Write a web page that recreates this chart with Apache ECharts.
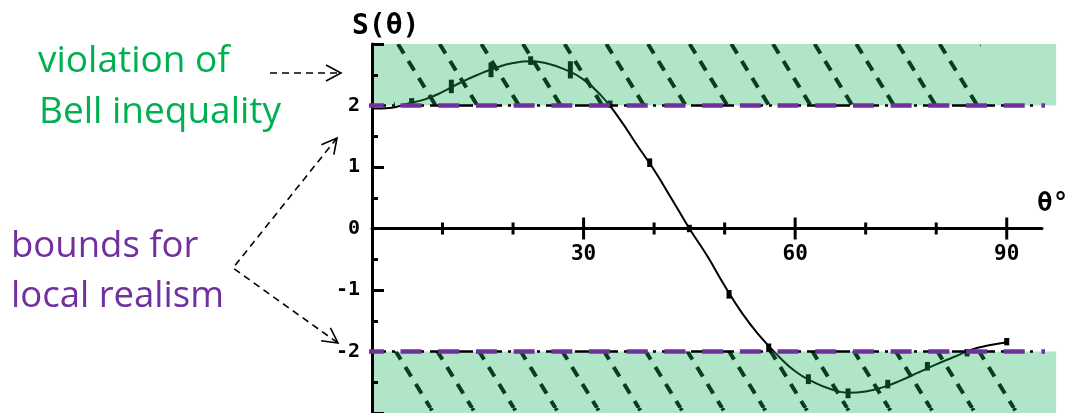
<!DOCTYPE html>
<html>
<head>
<meta charset="utf-8">
<script src="https://cdn.jsdelivr.net/npm/echarts@6/dist/echarts.min.js"></script>
<style>
  html, body { margin: 0; padding: 0; background: #fff; }
  #chart { width: 1071px; height: 413px; }
</style>
</head>
<body>
<div id="chart"></div>
<script>
// Correlation function S(θ): theoretical curve sampled every 2.5°
const curveTheta = [0, 2.5, 5, 7.5, 10, 12.5, 15, 17.5, 20, 22.5, 25, 27.5, 30, 32.5, 35, 37.5, 40, 42.5, 45,
                    47.5, 50, 52.5, 55, 57.5, 60, 62.5, 65, 67.5, 70, 72.5, 75, 77.5, 80, 82.5, 85, 87.5, 90];
const curveS = [1.95, 1.96, 2.03, 2.10, 2.22, 2.37, 2.50, 2.61, 2.69, 2.72, 2.68, 2.58, 2.42, 2.16, 1.80, 1.37, 0.95, 0.48, 0.00,
                -0.44, -0.93, -1.38, -1.75, -2.06, -2.32, -2.49, -2.61, -2.67, -2.65, -2.58, -2.47, -2.34, -2.21, -2.09, -1.97, -1.90, -1.85];

// Measured values with their error half-heights
const pointTheta = [5.625, 11.25, 16.875, 22.5, 28.125, 33.75, 39.375, 45, 50.625, 56.25, 61.875, 67.5, 73.125, 78.75, 84.375, 90];
const pointS     = [2.07, 2.31, 2.58, 2.73, 2.58, 2.02, 1.07, 0.00, -1.07, -1.94, -2.45, -2.68, -2.53, -2.24, -2.02, -1.84];
const pointErr   = [0.05, 0.11, 0.12, 0.07, 0.14, 0.06, 0.07, 0.06, 0.07, 0.07, 0.08, 0.08, 0.07, 0.07, 0.06, 0.06];

// Local-realism bounds and the regions beyond them
const bellBounds = [2, -2];
const violationBands = [[2, 3], [-3, -2]];

// Axis ticks and labels
const xTickMinor = [10, 20, 40, 50, 70, 80];
const xTickMajor = [30, 60, 90];
const xLabels = [30, 60, 90];
const yLabels = [-2, -1, 0, 1, 2];

// ---- drawing settings ----
const X_MAX = 95;           // end of the θ axis
const BAND_END = 97;        // shaded regions run a little past the axis
const BOUND_START = -1.3;   // bound lines start just left of the S axis
const hatchSpan = [[3.1, 86.3], [3.1, 91.8]];  // θ range of the hatching in each band
const hatchPhase = [37.7, 13.8];               // horizontal phase of the hatch lines at y = 0
const MONO = '"DejaVu Sans Mono", monospace';
const SANS = '"Open Sans", sans-serif';

// Tile of dashed "\" strokes used as a repeating fill
function makeHatch(x0) {
  const W = 125, H = 204, sp = W / 3;
  const cv = document.createElement('canvas');
  cv.width = W; cv.height = H;
  const ctx = cv.getContext('2d');
  const seg = Math.hypot(W, H);
  const period = seg / 12;
  ctx.strokeStyle = '#000';
  ctx.lineWidth = 4;
  ctx.lineCap = 'butt';
  ctx.setLineDash([period * 0.56, period * 0.44]);
  ctx.lineDashOffset = period - 10 * seg / H;
  for (let k = -4; k <= 3; k++) {
    const xs = x0 + k * sp;
    ctx.beginPath();
    ctx.moveTo(xs, 0);
    ctx.lineTo(xs + W, H);
    ctx.stroke();
  }
  return cv;
}
const hatchImages = hatchPhase.map(makeHatch);

const chart = echarts.init(document.getElementById('chart'), null, { renderer: 'canvas' });

function tickSeries(values, half) {
  return {
    type: 'custom',
    z: 5,
    silent: true,
    data: values.map(v => [v, 0]),
    renderItem: (params, api) => {
      const p = api.coord([api.value(0), 0]);
      return {
        type: 'line',
        shape: { x1: p[0], y1: p[1] - half, x2: p[0], y2: p[1] + half },
        style: { stroke: '#000', lineWidth: 3 }
      };
    }
  };
}

function arrowHead(tip, from) {
  const dx = tip[0] - from[0], dy = tip[1] - from[1];
  const L = Math.hypot(dx, dy), ux = dx / L, uy = dy / L;
  const len = 17, a = 28 * Math.PI / 180;
  const arm = s => [tip[0] - len * (ux * Math.cos(a) - s * uy * Math.sin(a)),
                    tip[1] - len * (uy * Math.cos(a) + s * ux * Math.sin(a))];
  return { type: 'polyline', shape: { points: [arm(1), tip, arm(-1)] },
           style: { stroke: '#000', lineWidth: 1.6, fill: null } };
}
function dashed(points) {
  return { type: 'polyline', shape: { points },
           style: { stroke: '#000', lineWidth: 1.6, lineDash: [7, 5], fill: null } };
}
function label(text, x, y, color, font) {
  return { type: 'text', x, y,
           style: { text, fill: color, font, textAlign: 'left', textVerticalAlign: 'middle' } };
}

const apex = [233, 268], tipUp = [337, 138], tipDown = [338, 343];

const option = {
  backgroundColor: '#fff',
  animation: false,
  grid: { left: 372, right: 29, top: 44, bottom: 0, containLabel: false, outerBoundsMode: 'none' },
  xAxis: {
    type: 'value', min: 0, max: X_MAX, interval: 5,
    axisLine: { show: true, onZero: true, lineStyle: { color: '#000', width: 3 } },
    axisTick: { show: false },
    splitLine: { show: false },
    axisLabel: { show: false }
  },
  yAxis: {
    type: 'value', min: -3, max: 3, interval: 1, z: 8,
    axisLine: { show: true, lineStyle: { color: '#000', width: 3 } },
    axisTick: { show: true, inside: true, length: 12, lineStyle: { color: '#000', width: 3 } },
    minorTick: { show: true, splitNumber: 2, length: 6, lineStyle: { color: '#000', width: 3 } },
    splitLine: { show: false },
    minorSplitLine: { show: false },
    axisLabel: {
      margin: 12, color: '#000', fontFamily: MONO, fontWeight: 'bold', fontSize: 20,
      formatter: v => yLabels.includes(v) ? String(v) : ''
    }
  },
  series: [
    // hatching inside the violation regions
    {
      type: 'custom', z: 1, silent: true,
      data: violationBands,
      renderItem: (params, api) => {
        const i = params.dataIndex;
        const a = api.coord([hatchSpan[i][0], api.value(1)]);
        const b = api.coord([hatchSpan[i][1], api.value(0)]);
        return { type: 'rect', shape: { x: a[0], y: a[1], width: b[0] - a[0], height: b[1] - a[1] },
                 style: { fill: { image: hatchImages[i], repeat: 'repeat' } } };
      }
    },
    // theoretical curve
    {
      type: 'line', z: 2, silent: true,
      data: curveTheta.map((t, i) => [t, curveS[i]]),
      smooth: true, symbol: 'none',
      lineStyle: { color: '#000', width: 2 }
    },
    // measured values with error bars
    {
      type: 'custom', z: 3, silent: true,
      data: pointTheta.map((t, i) => [t, pointS[i], pointErr[i]]),
      renderItem: (params, api) => {
        const t = api.value(0), s = api.value(1), e = api.value(2);
        const top = api.coord([t, s + e]), bot = api.coord([t, s - e]);
        const h = Math.max(bot[1] - top[1], 6);
        const yc = (top[1] + bot[1]) / 2;
        return { type: 'rect', shape: { x: top[0] - 2.5, y: yc - h / 2, width: 5, height: h },
                 style: { fill: '#000' } };
      }
    },
    // translucent green over the violation regions
    {
      type: 'custom', z: 4, silent: true,
      data: violationBands,
      renderItem: (params, api) => {
        const a = api.coord([0, api.value(1)]);
        const b = api.coord([BAND_END, api.value(0)]);
        return { type: 'rect', shape: { x: a[0] + 1.5, y: a[1], width: b[0] - a[0] - 1.5, height: b[1] - a[1] },
                 style: { fill: 'rgba(26,178,93,0.34)' } };
      }
    },
    tickSeries(xTickMinor, 6),
    tickSeries(xTickMajor, 11),
    // θ tick labels under the axis
    {
      type: 'custom', z: 5, silent: true,
      data: xLabels.map(v => [v, 0]),
      renderItem: (params, api) => {
        const v = api.value(0);
        const p = api.coord([v, 0]);
        return { type: 'text', x: p[0], y: p[1] + 26.5,
                 style: { text: String(v), fill: '#000', font: 'bold 21px ' + MONO,
                          textAlign: 'center', textVerticalAlign: 'middle' } };
      }
    },
    // dash-dot bound lines beneath the highlighted ones
    ...bellBounds.map(b => ({
      type: 'line', z: 9, silent: true, clip: false, symbol: 'none',
      data: [[0, b], [94, b]],
      lineStyle: { color: '#000', width: 2.5, type: [14, 6, 3, 6] }
    })),
    // local-realism bounds
    ...bellBounds.map(b => ({
      type: 'line', z: 10, silent: true, clip: false, symbol: 'none',
      data: [[BOUND_START, b], [BAND_END, b]],
      lineStyle: { color: '#7030a0', width: 4.5, type: [21, 16.7] }
    }))
  ],
  graphic: [
    label('S(θ)', 352, 27, '#000', 'bold 28px ' + MONO),
    label('θ°', 1037, 204, '#000', 'bold 26px ' + MONO),
    label('violation of', 38, 61, '#00b050', '37px ' + SANS),
    label('Bell inequality', 39, 112, '#00b050', '37px ' + SANS),
    label('bounds for', 11, 247, '#7030a0', '36.5px ' + SANS),
    label('local realism', 11, 297, '#7030a0', '36.5px ' + SANS),
    dashed([[270, 73], [339, 73]]),
    arrowHead([341, 73], [270, 73]),
    dashed([tipUp, apex, tipDown]),
    arrowHead(tipUp, apex),
    arrowHead(tipDown, apex)
  ]
};

chart.setOption(option);
</script>
</body>
</html>
